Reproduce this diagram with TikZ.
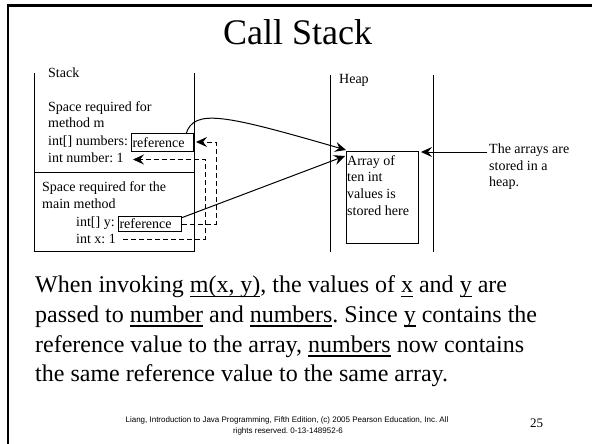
\documentclass[tikz,border=0pt]{standalone}
\usepackage{fontspec}
\setmainfont{Liberation Serif}
\newfontfamily\footfont{Liberation Sans}
\usetikzlibrary{arrows.meta,calc}
\newcommand\myul[1]{\setbox0\hbox{#1}\rlap{\rule[-4.6pt]{\wd0}{1.3pt}}\box0\relax}
\frenchspacing
\begin{document}
\begin{tikzpicture}[x=1pt,y=-1pt,
  txt/.style={anchor=base west, inner sep=0pt, font=\fontsize{14}{16}\selectfont},
  body/.style={anchor=base west, inner sep=0pt, font=\fontsize{24}{29}\selectfont},
  wall/.style={line width=1pt},
  refbox/.style={draw, line width=1pt, inner sep=1pt, align=left, anchor=north west, font=\fontsize{14}{16}\selectfont},
  ptr/.style={line width=1pt, -{Stealth[length=11pt,width=10pt,inset=4pt]}},
  copyarrow/.style={ptr, dash pattern=on 5pt off 3pt},
  frameline/.style={line width=2.5pt}
]
\useasboundingbox (0,0) rectangle (592,444);
% slide frame
\draw[frameline] (7.8,444) -- (7.8,5.3) -- (592,5.3);
% title
\node[anchor=base, inner sep=0pt, font=\fontsize{36}{40}\selectfont] (title) at (297.5,45) {Call Stack};

% stack
\draw[wall] (34,73) -- (34,251) -- (194,251) -- (194,73);
\draw[wall] (34,172) -- (194,172);
\node[txt] (stk) at (48,77.7) {Stack};
\node[txt] (m1) at (48,111.7) {Space required for};
\node[txt] (m2) at (48,128) {method m};
\node[txt] (m3) at (48,145.7) {int[] numbers:};
\node[txt] (m4) at (48,162) {int number: 1};
\node[txt] (n1) at (42,191.7) {Space required for the};
\node[txt] (n2) at (42,208) {main method};
\node[txt] (n3) at (76,226.7) {int[] y:};
\node[txt] (n4) at (76,243) {int x: 1};
\node[refbox, text width=60pt, minimum height=18pt] (ref1) at (131,133) {reference};
\node[refbox, text width=61pt, minimum height=15pt] (ref2) at (118,216) {reference};

% heap
\draw[wall] (330,75) -- (330,252);
\draw[wall] (433,75) -- (433,252);
\node[txt] (hp) at (339,83.3) {Heap};
\node[draw, line width=1pt, inner sep=0pt, minimum width=72pt, minimum height=92pt, anchor=north west] (arr) at (346,151) {};
\node[txt] (a1) at (347,165) {Array of};
\node[txt] (a2) at (347,181.7) {ten int};
\node[txt] (a3) at (347,198) {values is};
\node[txt] (a4) at (347,215) {stored here};
\node[txt] (t1) at (489,153.3) {The arrays are};
\node[txt] (t2) at (489,170) {stored in a};
\node[txt] (t3) at (489,186.7) {heap.};

% pointers
\coordinate (c1s) at (186,134);
\coordinate (c2s) at (181,218);
\draw[ptr] (c1s) .. controls (194,108) and (225,115) .. ([yshift=1pt]arr.north west);
\draw[ptr] (c2s) -- ([xshift=-1pt,yshift=-5pt]arr.north west);
\coordinate (ts) at (487,152);
\draw[ptr] (ts) -- ([xshift=2pt,yshift=-1pt]arr.north east);

% dashed copy arrows
\coordinate (pa) at (216,142);
\coordinate (pb) at (205,159.5);
\coordinate (xs) at (123,239.3);
\draw[copyarrow] (ref2.east) -| (pa) -- (196,142);
\draw[copyarrow] (xs) -| (pb) -- (133,159.5);

% body text
\node[body] (b1) at (35,292.3) {When invoking \myul{m(x, y)}, the values of \myul{x} and \myul{y} are};
\node[body] (b2) at (35,322) {passed to \myul{number} and \myul{numbers}. Since \myul{y} contains the};
\node[body] (b3) at (35,352) {reference value to the array, \myul{numbers} now contains};
\node[body] (b4) at (35,381.5) {the same reference value to the same array.};

% footer
\node[anchor=base, inner sep=0pt, font=\footfont\fontsize{8}{10}\selectfont] (f1) at (287,422) {Liang, Introduction to Java Programming, Fifth Edition, (c) 2005 Pearson Education, Inc. All};
\node[anchor=base, inner sep=0pt, font=\footfont\fontsize{8}{10}\selectfont] (f2) at (288,433) {rights reserved. 0-13-148952-6};
\node[anchor=base west, inner sep=0pt, font=\fontsize{13}{15}\selectfont] (pg) at (530,427) {25};
\end{tikzpicture}
\end{document}
